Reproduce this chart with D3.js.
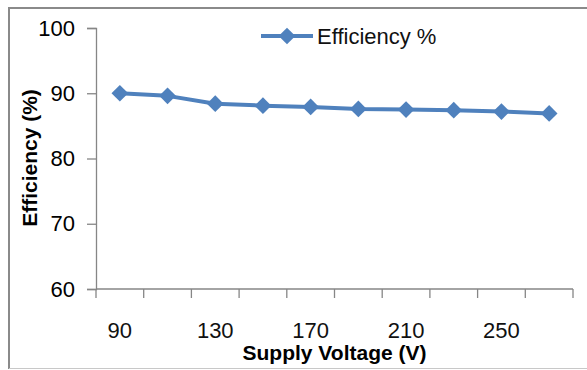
<!DOCTYPE html>
<html>
<head>
<meta charset="utf-8">
<script src="https://cdn.jsdelivr.net/npm/d3@7"></script>
<style>
  html, body { margin: 0; padding: 0; background: #fff; overflow: hidden; }
  svg { display: block; }
  text { font-family: "Liberation Sans", Arial, sans-serif; fill: #000; }
</style>
</head>
<body>
<svg id="chart" width="587" height="370"></svg>
<script>
// Supply voltage steps (V) and measured efficiency (%)
const voltages = [90, 110, 130, 150, 170, 190, 210, 230, 250, 270];
const efficiency = [90.0, 89.6, 88.4, 88.1, 87.9, 87.6, 87.5, 87.4, 87.2, 86.9];
const yTicks = [60, 70, 80, 90, 100];
const xTickLabels = [90, 130, 170, 210, 250];
const seriesName = "Efficiency %";

const svg = d3.select("#chart");
const blue = "#4F81BD";
const axisGrey = "#868686";

// chart frame: darker top/left edges, faint bottom edge
svg.append("line")
  .attr("x1", 9).attr("x2", 587).attr("y1", 8).attr("y2", 8)
  .attr("stroke", "#8a8a8a").attr("stroke-width", 2);
svg.append("line")
  .attr("x1", 9).attr("x2", 9).attr("y1", 7).attr("y2", 369)
  .attr("stroke", "#8a8a8a").attr("stroke-width", 2);
svg.append("line")
  .attr("x1", 9).attr("x2", 587).attr("y1", 368.5).attr("y2", 368.5)
  .attr("stroke", "#c8c8c8").attr("stroke-width", 1);

const plot = { left: 96, right: 573, top: 28, bottom: 289 };

const x = d3.scaleBand()
  .domain(voltages)
  .range([plot.left, plot.right])
  .paddingInner(0).paddingOuter(0);

const y = d3.scaleLinear()
  .domain([60, 100])
  .range([plot.bottom, plot.top]);

// y axis
const yAxis = svg.append("g")
  .attr("transform", `translate(${plot.left},0)`)
  .call(d3.axisLeft(y).tickValues(yTicks).tickSize(9).tickPadding(12));
yAxis.select(".domain").attr("stroke", axisGrey).attr("stroke-width", 1.3);
yAxis.selectAll(".tick line").attr("stroke", axisGrey).attr("stroke-width", 1.3);
yAxis.selectAll(".tick text")
  .attr("font-size", 22)
  .attr("font-family", "Liberation Sans, Arial, sans-serif")
  .attr("fill", "#111");

// x axis: tick marks on band edges, labels on every other category
const xAxis = svg.append("g")
  .attr("transform", `translate(0,${plot.bottom})`);
xAxis.append("line")
  .attr("x1", plot.left).attr("x2", plot.right)
  .attr("y1", 0).attr("y2", 0)
  .attr("stroke", axisGrey).attr("stroke-width", 1.3);
const edges = voltages.map(v => x(v)).concat([x(voltages[voltages.length - 1]) + x.bandwidth()]);
xAxis.selectAll("line.edge").data(edges).join("line")
  .attr("class", "edge")
  .attr("x1", d => d).attr("x2", d => d)
  .attr("y1", 0).attr("y2", 9)
  .attr("stroke", axisGrey).attr("stroke-width", 1.3);
xAxis.selectAll("text").data(xTickLabels).join("text")
  .attr("x", d => x(d) + x.bandwidth() / 2)
  .attr("y", 41)
  .attr("dy", "0.35em")
  .attr("text-anchor", "middle")
  .attr("font-size", 22)
  .style("fill", "#111")
  .text(d => d);

// axis titles
svg.append("text")
  .attr("x", (plot.left + plot.right) / 2)
  .attr("y", 360)
  .attr("text-anchor", "middle")
  .attr("font-size", 21)
  .attr("font-weight", "bold")
  .text("Supply Voltage (V)");

svg.append("text")
  .attr("transform", "translate(37,158) rotate(-90)")
  .attr("text-anchor", "middle")
  .attr("font-size", 21)
  .attr("font-weight", "bold")
  .text("Efficiency (%)");

// series line
const pts = voltages.map((v, i) => [x(v) + x.bandwidth() / 2, y(efficiency[i])]);
svg.append("path")
  .attr("d", d3.line()(pts))
  .attr("fill", "none")
  .attr("stroke", blue)
  .attr("stroke-width", 4)
  .attr("stroke-linejoin", "round");

const diamond = d3.symbol().type(d3.symbolSquare).size(140);
svg.selectAll("path.marker").data(pts).join("path")
  .attr("class", "marker")
  .attr("d", diamond)
  .attr("transform", d => `translate(${d[0]},${d[1]}) rotate(45)`)
  .attr("fill", blue);

// legend
const lg = svg.append("g").attr("transform", "translate(261,36)");
lg.append("line")
  .attr("x1", 0).attr("x2", 52)
  .attr("y1", 0).attr("y2", 0)
  .attr("stroke", blue).attr("stroke-width", 4);
lg.append("path")
  .attr("d", diamond)
  .attr("transform", "translate(26,0) rotate(45)")
  .attr("fill", blue);
lg.append("text")
  .attr("x", 56)
  .attr("y", 0)
  .attr("dy", "0.35em")
  .attr("font-size", 22)
  .style("fill", "#111")
  .text(seriesName);
</script>
</body>
</html>
